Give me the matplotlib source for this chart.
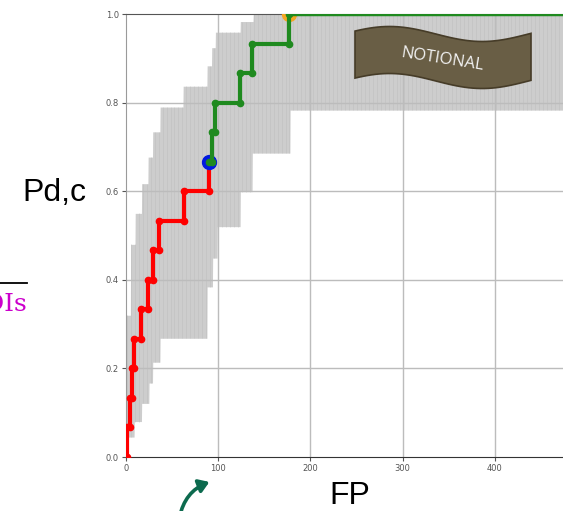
import numpy as np
import matplotlib
matplotlib.use("Agg")
import matplotlib.pyplot as plt
from matplotlib.patches import Polygon, FancyArrowPatch
from matplotlib.lines import Line2D

W, H = 563, 511

# Pd levels (multiples of 1/15)
pd_levels = [0.0, 0.067, 0.133, 0.2, 0.267, 0.333, 0.4, 0.467, 0.533,
             0.6, 0.667, 0.733, 0.8, 0.867, 0.933, 1.0]
# FP where the curve steps up to the next level
red_steps = [1, 4, 6, 9, 16, 24, 29, 36, 63, 90]
green_steps = [93, 96, 124, 137, 177]
fp_end = 500

# confidence band (step functions)
upper_fp = [0, 5, 10, 17, 24, 29, 37, 62, 88, 93, 97, 124, 138]
upper_pd = [0.32, 0.48, 0.55, 0.617, 0.677, 0.734, 0.79, 0.837, 0.883,
            0.924, 0.959, 0.983, 1.0]
lower_fp = [0, 1, 9, 17, 25, 29, 37, 88, 94, 99, 124, 137, 178]
lower_pd = [0.0, 0.045, 0.08, 0.121, 0.167, 0.214, 0.268, 0.384, 0.449,
            0.52, 0.599, 0.686, 0.783]

knee_fp, knee_pd = 90, 0.667
top_fp, top_pd = 177, 1.0

xticks = [0, 100, 200, 300, 400]
yticks = [0.0, 0.2, 0.4, 0.6, 0.8, 1.0]


def step_xy(x0, start_level, steps):
    xs, ys = [x0], [pd_levels[start_level]]
    lvl = start_level
    for s in steps:
        xs += [s, s]
        ys += [pd_levels[lvl], pd_levels[lvl + 1]]
        lvl += 1
    return xs, ys


def step_eval(bx, by, x):
    idx = np.searchsorted(bx, x, side="right") - 1
    return np.array(by)[idx]


def fig_px(x, y):
    return (x / W, 1 - y / H)


fig = plt.figure(figsize=(W / 100, H / 100), dpi=100)
ax = fig.add_axes([126 / W, 54 / H, 461 / W, 443 / H])

# band
xg = np.arange(0, fp_end + 0.25, 0.25)
up = step_eval(upper_fp, upper_pd, xg)
lo = step_eval(lower_fp, lower_pd, xg)
ax.fill_between(xg, lo, up, color="#cdcdcd", lw=0, zorder=1)
xs_lines = np.arange(1, fp_end, 4.3)
ax.vlines(xs_lines, step_eval(lower_fp, lower_pd, xs_lines),
          step_eval(upper_fp, upper_pd, xs_lines),
          color="#b8b8b8", lw=0.6, alpha=0.45, zorder=1)

# grid
for x in xticks[1:]:
    ax.axvline(x, color="#bcbcbc", lw=1, zorder=2)
for y in yticks[1:-1]:
    ax.axhline(y, color="#bcbcbc", lw=1, zorder=2)

# curves
rx, ry = step_xy(0, 0, red_steps)
gx, gy = step_xy(knee_fp, 10, green_steps)
ax.plot(top_fp, top_pd, "o", color="#f5a623", ms=10, zorder=3)
ax.plot(rx, ry, "-o", color="#ff0000", lw=3, ms=4.5, zorder=4,
        solid_joinstyle="miter")
ax.plot(knee_fp, knee_pd, "o", color="#0018e0", ms=10, zorder=5)
ax.plot(gx, gy, "-o", color="#1f8a1f", lw=3, ms=4.5, zorder=6,
        solid_joinstyle="miter")
ax.plot([top_fp, fp_end], [top_pd, top_pd], "-", color="#1f8a1f", lw=2.5,
        zorder=6)

ax.set_xlim(0, fp_end)
ax.set_ylim(0, 1.0)
ax.set_xticks(xticks)
ax.set_yticks(yticks)
ax.set_yticklabels(["%.1f" % v for v in yticks])
ax.tick_params(labelsize=6, colors="#555555", length=3, width=0.8, pad=2)
ax.spines["left"].set_color("#9a9a9a")
ax.spines["bottom"].set_color("#333333")
ax.spines["top"].set_color("#555555")
ax.spines["right"].set_visible(False)

# slide decorations
fig.text(*fig_px(22, 201), "Pd,c", fontsize=23, family="Liberation Sans",
         color="black")
fig.text(*fig_px(329, 504), "FP", fontsize=23, family="Liberation Sans",
         color="black")
fig.text(*fig_px(27, 311), "ROIs", fontsize=18, family="DejaVu Serif",
         color="#cc00cc", ha="right")
fig.add_artist(Line2D([0, 27 / W], [1 - 282.5 / H] * 2, color="black",
                      lw=1.3, transform=fig.transFigure))

# NOTIONAL banner
t = np.linspace(0, 1, 60)
bx = 355 + t * 176
btop = 34 - 7.5 * np.sin(2 * np.pi * 0.95 * t + 0.4)
bbot = btop + 47
pts = [fig_px(x, y) for x, y in zip(bx, btop)] + \
      [fig_px(x, y) for x, y in zip(bx[::-1], bbot[::-1])]
fig.add_artist(Polygon(pts, closed=True, facecolor="#695e45",
                       edgecolor="#463c28", lw=1.2,
                       transform=fig.transFigure, zorder=10))
fig.text(*fig_px(442, 60), "NOTIONAL", fontsize=12, family="Open Sans",
         color="#f2f2f2", rotation=-9, ha="center", va="center",
         zorder=11)

# arrow
fig.add_artist(FancyArrowPatch(fig_px(179, 520), fig_px(212, 481),
                               connectionstyle="arc3,rad=-0.3",
                               arrowstyle="-|>,head_length=6,head_width=4",
                               color="#0c6a4e", lw=2.6,
                               transform=fig.transFigure))

fig.savefig("out.png", dpi=100)
